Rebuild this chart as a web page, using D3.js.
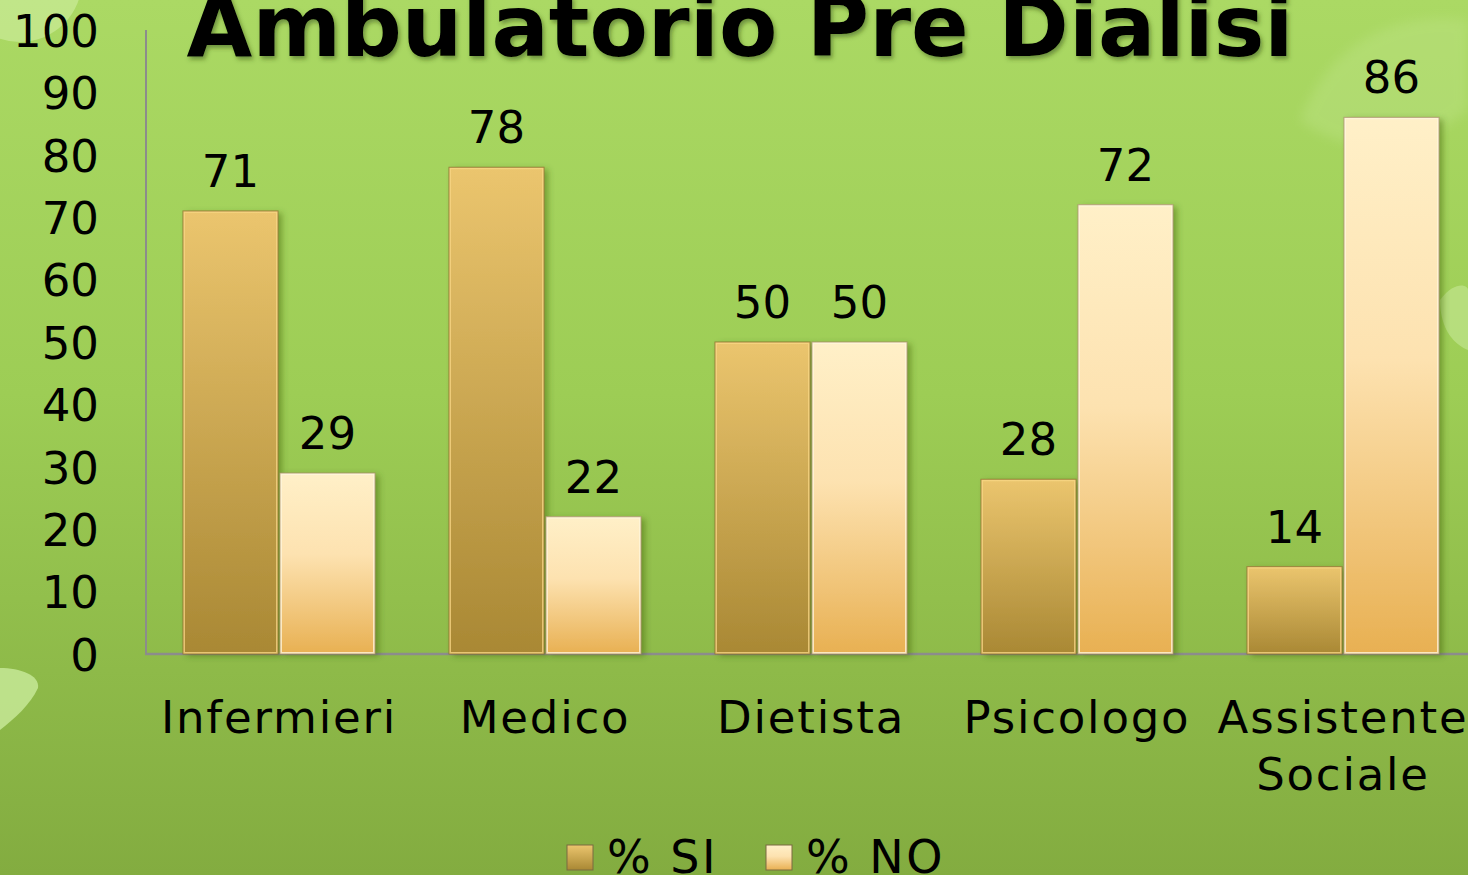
<!DOCTYPE html>
<html>
<head>
<meta charset="utf-8">
<script src="https://cdn.jsdelivr.net/npm/d3@7"></script>
<style>
html,body{margin:0;padding:0;overflow:hidden;background:#98c850;}
svg{display:block;}
text{font-family:"DejaVu Sans",Verdana,sans-serif;fill:#000;}
</style>
</head>
<body>
<script>
const categories = ["Infermieri", "Medico", "Dietista", "Psicologo", "Assistente Sociale"];
const seriesNames = ["% SI", "% NO"];
const valuesSI = [71, 78, 50, 28, 14];
const valuesNO = [29, 22, 50, 72, 86];
const yTicks = [0, 10, 20, 30, 40, 50, 60, 70, 80, 90, 100];
const titleText = "Ambulatorio Pre Dialisi";

const W = 1468, H = 875;
const svg = d3.select("body").append("svg").attr("width", W).attr("height", H);
const defs = svg.append("defs");

// background gradient
const bg = defs.append("linearGradient").attr("id", "bg").attr("x1", 0).attr("y1", 0).attr("x2", 0).attr("y2", 1);
bg.append("stop").attr("offset", "0%").attr("stop-color", "#abd964");
bg.append("stop").attr("offset", "45%").attr("stop-color", "#9dcd55");
bg.append("stop").attr("offset", "100%").attr("stop-color", "#83ac40");

const gSI = defs.append("linearGradient").attr("id", "gSI").attr("x1", 0).attr("y1", 0).attr("x2", 0).attr("y2", 1);
gSI.append("stop").attr("offset", "0%").attr("stop-color", "#ebc56e");
gSI.append("stop").attr("offset", "100%").attr("stop-color", "#a98834");
const gNO = defs.append("linearGradient").attr("id", "gNO").attr("x1", 0).attr("y1", 0).attr("x2", 0).attr("y2", 1);
gNO.append("stop").attr("offset", "0%").attr("stop-color", "#fff0c8");
gNO.append("stop").attr("offset", "45%").attr("stop-color", "#fde2b0");
gNO.append("stop").attr("offset", "100%").attr("stop-color", "#e8b052");

const sh = defs.append("filter").attr("id", "barShadow").attr("x", "-20%").attr("y", "-10%").attr("width", "150%").attr("height", "130%");
sh.append("feDropShadow").attr("dx", 4).attr("dy", 2).attr("stdDeviation", 3).attr("flood-color", "#3d5a10").attr("flood-opacity", 0.45);
const tsh = defs.append("filter").attr("id", "titleShadow").attr("x", "-5%").attr("y", "-20%").attr("width", "110%").attr("height", "150%");
tsh.append("feDropShadow").attr("dx", 2).attr("dy", 3).attr("stdDeviation", 2).attr("flood-color", "#2f4a10").attr("flood-opacity", 0.5);
defs.append("filter").attr("id", "soft").append("feGaussianBlur").attr("stdDeviation", 6);

svg.append("rect").attr("width", W).attr("height", H).attr("fill", "url(#bg)");

// faint decorative shapes
svg.append("circle").attr("cx", 20).attr("cy", -20).attr("r", 62).attr("fill", "#cbeb98").attr("opacity", 0.7);
svg.append("path").attr("d", "M0,668 C20,668 40,675 38,688 C30,705 15,718 0,730 Z").attr("fill", "#c6e896").attr("opacity", 0.85);
svg.append("path").attr("d", "M1300,120 C1330,40 1400,10 1468,20 L1468,110 C1420,150 1350,160 1300,120 Z").attr("fill", "#c3e68e").attr("opacity", 0.35).attr("filter", "url(#soft)");
svg.append("path").attr("d", "M1440,300 C1455,280 1468,285 1468,290 L1468,350 C1455,345 1440,330 1440,300 Z").attr("fill", "#c6e896").attr("opacity", 0.6);

// scales
const y = d3.scaleLinear().domain([0, 100]).range([654, 30]);
const x0 = d3.scaleBand().domain(categories).range([146, 1476]).paddingInner(0.278).paddingOuter(0.139);
const x1 = d3.scaleBand().domain(seriesNames).range([0, x0.bandwidth()]).paddingInner(0.02);

// axes
const axisColor = "#8c8c8c";
svg.append("line").attr("x1", 146).attr("x2", 146).attr("y1", y(100)).attr("y2", y(0)).attr("stroke", axisColor).attr("stroke-width", 2);
svg.append("line").attr("x1", 145).attr("x2", 1476).attr("y1", y(0)).attr("y2", y(0)).attr("stroke", axisColor).attr("stroke-width", 2.5);

const yAxis = d3.axisLeft(y).tickValues(yTicks).tickSize(0).tickPadding(0);
const yg = svg.append("g").attr("transform", "translate(99,0)").call(yAxis);
yg.select(".domain").remove();
yg.selectAll("text").attr("font-size", 45).attr("dy", "0.36em").style("font-family", '"DejaVu Sans",Verdana,sans-serif').attr("fill", "#000");

// bars
const data = categories.map((c, i) => ({cat: c, vals: [{s: seriesNames[0], v: valuesSI[i], f: "url(#gSI)"}, {s: seriesNames[1], v: valuesNO[i], f: "url(#gNO)"}]}));
const groups = svg.selectAll("g.grp").data(data).enter().append("g").attr("class", "grp")
  .attr("transform", d => `translate(${x0(d.cat)},0)`);

const bars = groups.selectAll("g.bar").data(d => d.vals).enter().append("g").attr("class", "bar");
bars.append("rect")
  .attr("x", d => x1(d.s)).attr("y", d => y(d.v))
  .attr("width", x1.bandwidth()).attr("height", d => y(0) - y(d.v))
  .attr("fill", d => d.f).attr("filter", "url(#barShadow)");
// bevel edges
bars.append("rect")
  .attr("x", d => x1(d.s) + 1).attr("y", d => y(d.v) + 1)
  .attr("width", x1.bandwidth() - 2).attr("height", d => y(0) - y(d.v) - 2)
  .attr("fill", "none").attr("stroke", d => d.s === seriesNames[0] ? "#f7d684" : "#fff6dc").attr("stroke-width", 2).attr("opacity", 0.8);
bars.append("rect")
  .attr("x", d => x1(d.s)).attr("y", d => y(d.v))
  .attr("width", x1.bandwidth()).attr("height", d => y(0) - y(d.v))
  .attr("fill", "none").attr("stroke", d => d.s === seriesNames[0] ? "#8f7230" : "#a8906a").attr("stroke-width", 1).attr("opacity", 0.8);

// value labels
bars.append("text")
  .attr("x", d => x1(d.s) + x1.bandwidth() / 2)
  .attr("y", d => y(d.v) - 24)
  .attr("text-anchor", "middle").attr("font-size", 45)
  .text(d => d.v);

// category labels
const catG = svg.selectAll("text.cat").data(categories).enter().append("text").attr("class", "cat")
  .attr("x", d => x0(d) + x0.bandwidth() / 2)
  .attr("y", 733).attr("text-anchor", "middle").attr("font-size", 45).attr("letter-spacing", 1.8);
catG.each(function(d) {
  const words = d.split(" ");
  const t = d3.select(this);
  words.forEach((w, i) => {
    t.append("tspan").attr("x", x0(d) + x0.bandwidth() / 2).attr("dy", i === 0 ? 0 : 57).text(w);
  });
});

// title
svg.append("text").attr("x", 740).attr("y", 56).attr("text-anchor", "middle")
  .attr("font-size", 85).attr("font-weight", "bold").attr("filter", "url(#titleShadow)")
  .text(titleText);

// legend
const legendItems = [{name: seriesNames[0], f: "url(#gSI)", x: 567}, {name: seriesNames[1], f: "url(#gNO)", x: 766}];
const lg = svg.selectAll("g.leg").data(legendItems).enter().append("g").attr("class", "leg");
lg.append("rect").attr("x", d => d.x).attr("y", 845).attr("width", 26).attr("height", 25).attr("fill", d => d.f)
  .attr("stroke", "#7a6a40").attr("stroke-width", 1);
lg.append("text").attr("x", d => d.x + 40).attr("y", 873).attr("font-size", 46).attr("letter-spacing", 2.5).text(d => d.name);
</script>
</body>
</html>
